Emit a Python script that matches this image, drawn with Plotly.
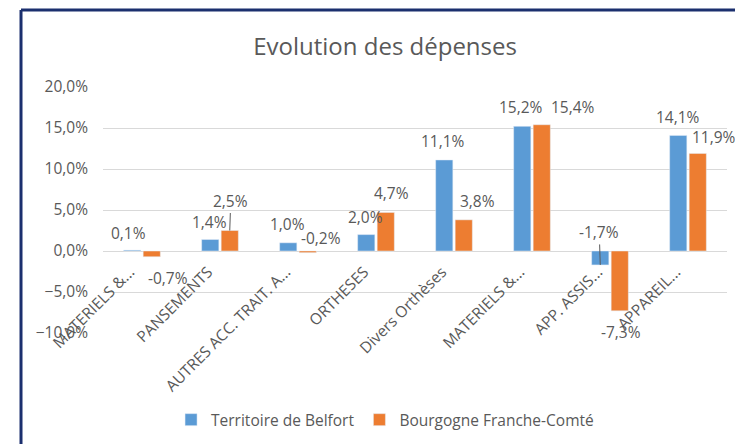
import plotly.graph_objects as go

categories = ["MATERIELS &...", "PANSEMENTS", "AUTRES ACC. TRAIT. A...", "ORTHESES",
              "Divers Orthèses", "MATERIELS &...", "APP. ASSIS...", "APPAREIL..."]
belfort = [0.001, 0.014, 0.010, 0.020, 0.111, 0.152, -0.017, 0.141]
bfc = [-0.007, 0.025, -0.002, 0.047, 0.038, 0.154, -0.073, 0.119]
series_names = ["Territoire de Belfort", "Bourgogne Franche-Comté"]
y_ticks = [-0.10, -0.05, 0.0, 0.05, 0.10, 0.15, 0.20]

# label placement (style only): pixel offsets of each data label from its bar end
belfort_lbl_dx = [-4, -1, -1, -1, -1, -1, -1, 0]
belfort_lbl_dy = [-17, -18, -19, -18, -19, -19, -33, -18]
bfc_lbl_dx = [16, 1, 13, 6, 14, 31, 1, 16]
bfc_lbl_dy = [21, -30, -15, -19, -19, -18, 21, -16]
belfort_leader = [False, False, False, False, False, False, True, False]
bfc_leader = [False, True, False, False, False, False, False, False]

FONT = "Open Sans"
GREY = "#595959"
COLORS = ["#5B9BD5", "#ED7D31"]
BAR_HALF = 9.75  # px from category centre to each bar centre
xpos = list(range(len(categories)))


def fmt(v):
    return f"{v*100:.1f}%".replace(".", ",")


fig = go.Figure()
for name, vals, col in [(series_names[0], belfort, COLORS[0]),
                        (series_names[1], bfc, COLORS[1])]:
    fig.add_trace(go.Bar(x=xpos, y=vals, name=name, marker_color=col))

annotations = []
for vals, dxs, dys, leaders, side in [(belfort, belfort_lbl_dx, belfort_lbl_dy, belfort_leader, -1),
                                      (bfc, bfc_lbl_dx, bfc_lbl_dy, bfc_leader, 1)]:
    for i, v in enumerate(vals):
        annotations.append(dict(
            x=xpos[i], y=v, xref="x", yref="y", text=fmt(v),
            xshift=side * BAR_HALF, showarrow=True, arrowhead=0, arrowwidth=1,
            arrowcolor=GREY if leaders[i] else "rgba(0,0,0,0)",
            ax=dxs[i], ay=dys[i], standoff=0, startstandoff=0,
            font=dict(family=FONT, size=15.5, color=GREY),
        ))

ymin, ymax = -0.10, 0.20
fig.update_layout(
    width=735, height=436,
    margin=dict(l=95, r=16, t=79, b=111, autoexpand=False),
    paper_bgcolor="white", plot_bgcolor="white",
    separators=", ",
    barmode="group", bargap=0.5, bargroupgap=0.12,
    font=dict(family=FONT, color=GREY),
    title=dict(text="Evolution des dépenses", x=0.513, xanchor="center",
               y=0.9106, yanchor="middle",
               font=dict(family=FONT, size=24, color=GREY)),
    legend=dict(orientation="h", x=0.452, xanchor="center", y=-0.354,
                yanchor="middle", font=dict(family=FONT, size=15.5, color=GREY),
                itemwidth=30),
    xaxis=dict(tickvals=xpos, ticktext=categories, tickangle=-45,
               anchor="free", position=(0 - ymin) / (ymax - ymin),
               showgrid=False, showline=False, ticks="", automargin=False,
               ticklabelshift=-12, ticklabelstandoff=8,
               tickfont=dict(family=FONT, size=15.5, color=GREY),
               range=[-0.5, len(categories) - 0.5]),
    yaxis=dict(range=[ymin, ymax], tickvals=y_ticks, tickformat=".1%",
               gridcolor="#d9d9d9", gridwidth=1, zeroline=True, automargin=False,
               zerolinecolor="#d9d9d9", zerolinewidth=1, showline=False,
               ticklabelstandoff=14,
               tickfont=dict(family=FONT, size=15.5, color=GREY)),
    annotations=annotations,
    shapes=[
        dict(type="line", xref="paper", yref="paper", x0=-0.1314, x1=1.05,
             y0=1.313, y1=1.313, line=dict(color="#1b2f6e", width=3)),
        dict(type="line", xref="paper", yref="paper", x0=-0.1314, x1=-0.1314,
             y0=1.313, y1=-0.5, line=dict(color="#1b2f6e", width=3)),
    ],
)

fig.write_html("out.html")
